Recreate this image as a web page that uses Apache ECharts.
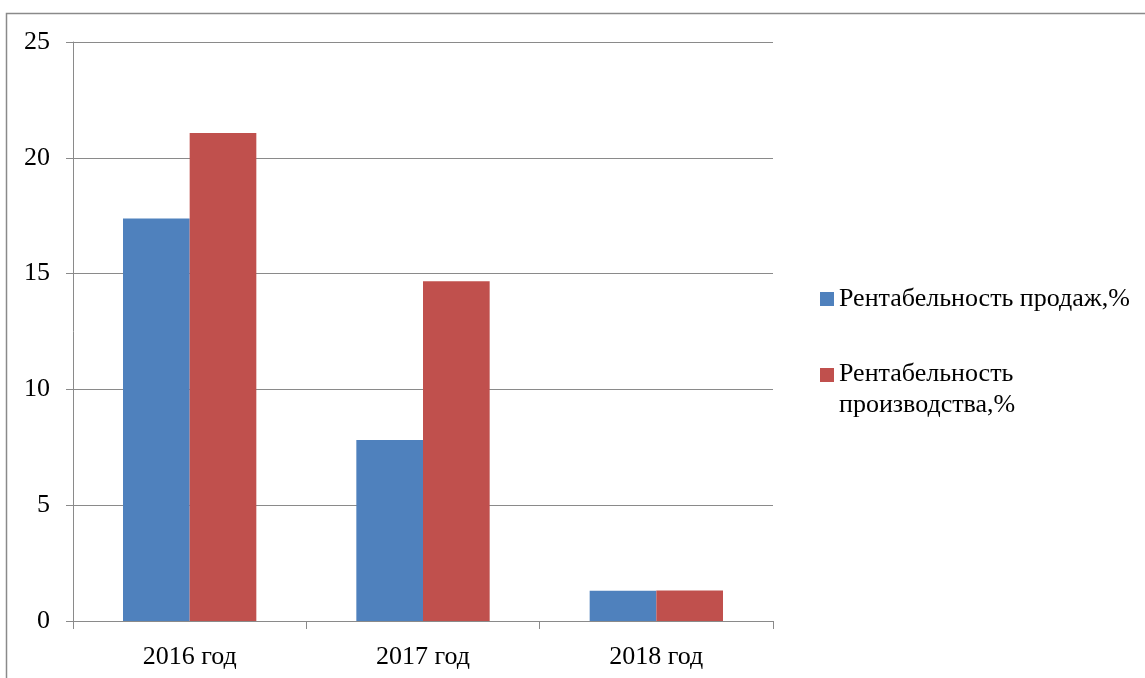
<!DOCTYPE html>
<html>
<head>
<meta charset="utf-8">
<script src="https://cdn.jsdelivr.net/npm/echarts@6/dist/echarts.min.js"></script>
<style>
html,body{margin:0;padding:0;background:#fff;}
#chart{width:1145px;height:678px;}
</style>
</head>
<body>
<div id="chart"></div>
<script>
const categories = ['2016 год', '2017 год', '2018 год'];
const salesName = 'Рентабельность продаж,%';
const prodName = 'Рентабельность производства,%';
const salesValues = [17.38, 7.81, 1.31];
const prodValues = [21.07, 14.67, 1.32];
const yTicks = { min: 0, max: 25, interval: 5 };

const FONT = "'Liberation Serif', 'Times New Roman', serif";
const LINE = '#8a8a8a';

const chart = echarts.init(document.getElementById('chart'), null, { renderer: 'canvas' });
const iconSq = 'path://M0,0L14,0L14,14L0,14Z';
const iconTop = 'path://M0,0L14,0L14,14L0,14Z M0,44';

chart.setOption({
  animation: false,
  backgroundColor: '#fff',
  textStyle: { fontFamily: FONT },
  graphic: [{
    type: 'rect',
    shape: { x: 6.5, y: 13.5, width: 1300, height: 800 },
    style: { fill: 'none', stroke: '#8a8a8a', lineWidth: 1.5 },
    silent: true
  }],
  grid: { left: 73, right: 372, top: 42, bottom: 57, containLabel: false },
  legend: [{
    orient: 'vertical', left: 815, top: 279,
    itemWidth: 14, itemHeight: 14,
    icon: iconSq,
    data: [salesName],
    textStyle: { fontFamily: FONT, fontSize: 26, color: '#000', lineHeight: 30 }
  }, {
    orient: 'vertical', left: 815, top: 354,
    itemWidth: 14, itemHeight: 44,
    data: [{ name: prodName, icon: iconTop }],
    formatter: function (n) { return 'Рентабельность\nпроизводства,%'; },
    textStyle: { fontFamily: FONT, fontSize: 26, color: '#000', lineHeight: 31 }
  }],
  xAxis: {
    type: 'category',
    data: categories,
    axisLine: { show: true, lineStyle: { color: LINE, width: 1 } },
    axisTick: { show: true, length: 8, lineStyle: { color: LINE } },
    axisLabel: { fontFamily: FONT, fontSize: 26, color: '#000', margin: 23 },
    splitLine: { show: false }
  },
  yAxis: {
    type: 'value',
    min: yTicks.min, max: yTicks.max, interval: yTicks.interval,
    axisLine: { show: true, lineStyle: { color: LINE, width: 1 } },
    axisTick: { show: true, length: 7, lineStyle: { color: LINE } },
    axisLabel: { fontFamily: FONT, fontSize: 26, color: '#000', margin: 23 },
    splitLine: { show: true, lineStyle: { color: LINE, width: 1 } }
  },
  series: [{
    name: salesName, type: 'bar', data: salesValues,
    itemStyle: { color: '#4F81BD' },
    barGap: '0%', barCategoryGap: '42.86%'
  }, {
    name: prodName, type: 'bar', data: prodValues,
    itemStyle: { color: '#C0504D' },
    barGap: '0%', barCategoryGap: '42.86%'
  }]
});
</script>
</body>
</html>
